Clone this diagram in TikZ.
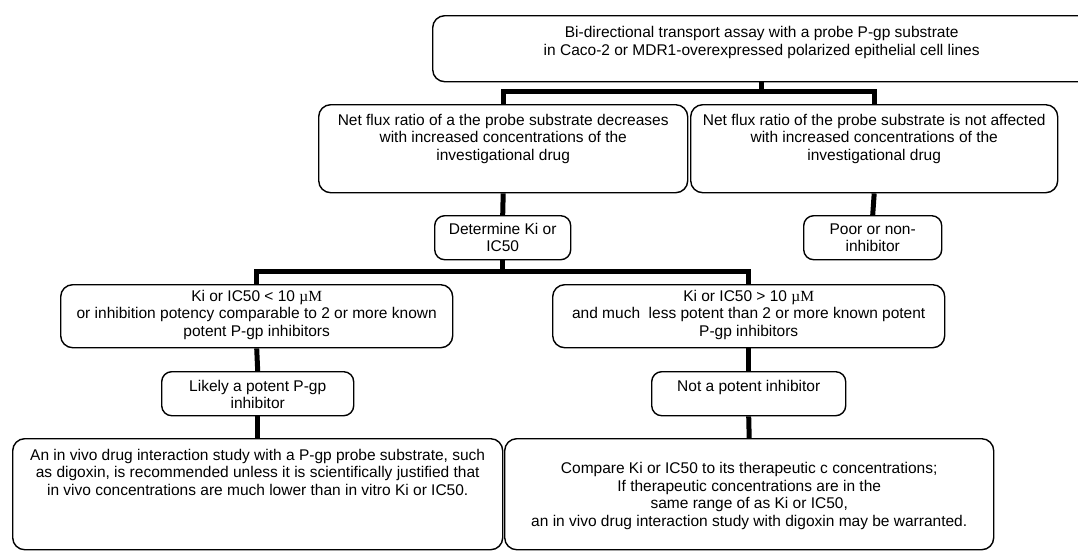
\documentclass[tikz,border=0pt]{standalone}
\usepackage{fontspec}
\setmainfont{Liberation Sans}
\newfontfamily\serfont{Liberation Serif}
\newcommand\bxt[4]{\parbox[t][#2pt][t]{#1pt}{\fontsize{15.5pt}{17.5pt}\selectfont\centering\rule{0pt}{#3pt}#4}}
\newcommand\uM{{\serfont µM}}
\begin{document}
\begin{tikzpicture}[x=1pt,y=-1pt,
  box/.style={draw, line width=1.4pt, rounded corners=12pt, inner sep=0pt, anchor=north west},
  sbox/.style={box, rounded corners=10pt},
  conn/.style={line width=5pt, line join=miter}]
\clip (0,0) rectangle (1078,550);
\node[box] (top) at (432,15) {\bxt{658}{66}{22}{Bi-directional transport assay with a probe P-gp substrate\\in Caco-2 or MDR1-overexpressed polarized epithelial cell lines}};
\node[box] (L2a) at (318,104) {\bxt{369}{88}{20.5}{Net flux ratio of a the probe substrate decreases\\with increased concentrations of the\\investigational drug}};
\node[box] (L2b) at (690,104) {\bxt{367}{88}{20.5}{Net flux ratio of the probe substrate is not affected\\with increased concentrations of the\\investigational drug}};
\node[sbox] (det) at (434,215) {\bxt{136}{44}{18.5}{Determine Ki or\\IC50}};
\node[sbox] (poor) at (803,215) {\bxt{138}{44}{18.5}{Poor or non-\\inhibitor}};
\node[box] (L3a) at (60,284) {\bxt{392}{63}{16.5}{Ki or IC50 {\textless} 10 \uM\\or inhibition potency comparable to 2 or more known\\potent P-gp inhibitors}};
\node[box] (L3b) at (552,284) {\bxt{392}{63}{16.5}{Ki or IC50 {\textgreater} 10 \uM\\and much~ less potent than 2 or more known potent\\P-gp inhibitors}};
\node[sbox] (lik) at (161,371) {\bxt{192}{44}{19.5}{Likely a potent P-gp\\inhibitor}};
\node[sbox] (notp) at (651,371) {\bxt{194}{44}{19.5}{Not a potent inhibitor}};
\node[box] (Fa) at (12,438) {\bxt{490}{111}{21.5}{An in vivo drug interaction study with a P-gp probe substrate, such\\as digoxin, is recommended unless it is scientifically justified that\\in vivo concentrations are much lower than in vitro Ki or IC50.}};
\node[box] (Fb) at (504,438) {\bxt{489}{111}{35}{Compare Ki or IC50 to its therapeutic c concentrations;\\If therapeutic concentrations are in the\\same range of as Ki or IC50,\\an in vivo drug interaction study with digoxin may be warranted.}};
\coordinate (b1) at (0,91.5);
\coordinate (b2) at (0,271);
\draw[conn] (top.south) -- (top.south|-b1);
\draw[conn] (L2a.north) -- (L2a.north|-b1) -- (L2b.north|-b1) -- (L2b.north);
\draw[conn] (L2a.south) -- (det.north);
\draw[conn] (L2b.south) -- (poor.north);
\draw[conn] (det.south) -- (det.south|-b2);
\draw[conn] (L3a.north) -- (L3a.north|-b2) -- (L3b.north|-b2) -- (L3b.north);
\draw[conn] (L3a.south) -- (lik.north);
\draw[conn] (lik.south) -- (Fa.north);
\draw[conn] (L3b.south) -- (notp.north);
\draw[conn] (notp.south) -- (Fb.north);
\end{tikzpicture}
\end{document}
